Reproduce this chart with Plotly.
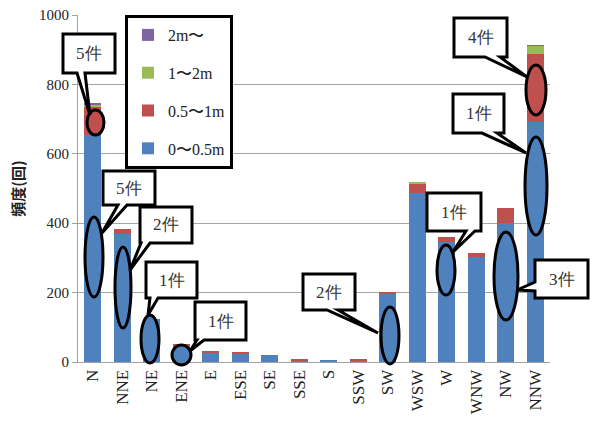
import plotly.graph_objects as go

# ---- data ----
directions = ["N", "NNE", "NE", "ENE", "E", "ESE", "SE", "SSE", "S", "SSW",
              "SW", "WSW", "W", "WNW", "NW", "NNW"]
h_0_05 = [655, 369, 124, 47, 26, 24, 21, 4, 5, 4, 196, 488, 347, 303, 401, 692]
h_05_1 = [80, 14, 0, 3, 3, 2, 0, 2, 0, 2, 4, 27, 12, 12, 44, 197]
h_1_2 = [8, 0, 0, 0, 0, 0, 0, 0, 0, 0, 0, 2, 0, 0, 0, 22]
h_2up = [1, 0, 0, 0, 0, 0, 0, 0, 0, 0, 0, 0, 0, 0, 0, 1]
series_names = ["0〜0.5m", "0.5〜1m", "1〜2m", "2m〜"]
series_colors = ["#4F81BD", "#C0504D", "#9BBB59", "#8064A2"]
y_ticks = [0, 200, 400, 600, 800, 1000]
y_title = "頻度(回)"

W, H = 595, 426
ML, MR, MT, MB = 78, 45, 15, 64
PW, PH = W - ML - MR, H - MT - MB

SERIF = "Liberation Serif, Times New Roman, serif"

fig = go.Figure()
series = [h_0_05, h_05_1, h_1_2, h_2up]
for i, (name, vals, col) in enumerate(zip(series_names, series, series_colors)):
    fig.add_trace(go.Bar(x=directions, y=vals, name=name, marker_color=col,
                         marker_line_width=0, legendgroup=name,
                         legendrank=1000 - i))


def px2p(x, y):
    return (x - ML) / PW, (MT + PH - y) / PH


def path_from(points):
    pts = [px2p(x, y) for x, y in points]
    return "M " + " L ".join(f"{a:.4f},{b:.4f}" for a, b in pts) + " Z"


shapes = []
annotations = []

# callouts: (text, box(x0,y0,x1,y1), edge, base(a,b), tip(x,y))
callouts = [
    ("5件", (63, 34, 115, 73), "bottom", (77, 85), (90, 115)),
    ("5件", (103, 171, 155, 205), "bottom", (118, 127), (102, 233)),
    ("2件", (140, 207, 192, 243), "bottom", (141, 150), (130, 270)),
    ("1件", (146, 262, 197, 298), "bottom", (150, 158), (148, 315)),
    ("1件", (195, 302, 246, 340), "bottom", (197, 204), (190, 351)),
    ("2件", (303, 274, 355, 310), "bottom", (327, 338), (378, 333)),
    ("1件", (427, 193, 481, 231), "bottom", (466, 475), (453, 252)),
    ("3件", (535, 260, 588, 298), "left", (282, 291), (517, 290)),
    ("1件", (453, 94, 504, 133), "bottom", (482, 497), (526, 153)),
    ("4件", (454, 18, 507, 57), "bottom", (485, 500), (527, 77)),
]
ellipses = [
    ((87, 110, 104, 135), "#C0504D"),
    ((85, 217, 103, 297), "#4F81BD"),
    ((115, 247, 131, 328), "#4F81BD"),
    ((141, 315, 159, 363), "#4F81BD"),
    ((172, 345, 191, 365), "#4F81BD"),
    ((381, 307, 399, 364), "#4F81BD"),
    ((437, 245, 455, 295), "#4F81BD"),
    ((494, 232, 518, 320), "#4F81BD"),
    ((525, 137, 547, 235), "#4F81BD"),
    ((526, 65, 546, 115), "#C0504D"),
]

for (x0, y0, x1, y1), col in ellipses:
    a0, b0 = px2p(x0, y1)
    a1, b1 = px2p(x1, y0)
    shapes.append(dict(type="circle", xref="paper", yref="paper", x0=a0, x1=a1,
                       y0=b0, y1=b1, fillcolor=col, line=dict(color="black", width=3),
                       layer="above"))

for text, (x0, y0, x1, y1), edge, (a, b), (tx, ty) in callouts:
    if edge == "bottom":
        pts = [(x0, y0), (x1, y0), (x1, y1), (b, y1), (tx, ty), (a, y1), (x0, y1)]
    else:  # left
        pts = [(x0, y0), (x1, y0), (x1, y1), (x0, y1), (x0, b), (tx, ty), (x0, a)]
    shapes.append(dict(type="path", xref="paper", yref="paper", path=path_from(pts),
                       fillcolor="white", line=dict(color="black", width=3),
                       layer="above"))
    cx, cy = px2p((x0 + x1) / 2, (y0 + y1) / 2)
    annotations.append(dict(x=cx, y=cy, xref="paper", yref="paper", text=text,
                            showarrow=False, xanchor="center", yanchor="middle",
                            font=dict(family=SERIF, size=17, color="#333333")))

fig.update_layout(
    width=W, height=H,
    margin=dict(l=ML, r=MR, t=MT, b=MB, autoexpand=False),
    paper_bgcolor="white", plot_bgcolor="white",
    barmode="stack", bargap=0.42,
    showlegend=True,
    legend=dict(x=(125 - ML) / PW, y=1.0, xanchor="left", yanchor="top",
                traceorder="grouped", tracegroupgap=14,
                bordercolor="black", borderwidth=3, bgcolor="white",
                font=dict(family=SERIF, size=16, color="#222222")),
    xaxis=dict(type="category", tickangle=-90, showgrid=False,
               showline=True, linecolor="#A0A0A0", linewidth=1,
               ticks="", tickfont=dict(family=SERIF, size=17, color="#222222")),
    yaxis=dict(range=[0, 1000], tickvals=y_ticks, showgrid=True, gridcolor="#A6A6A6",
               gridwidth=1, showline=True, linecolor="#A0A0A0", linewidth=1,
               ticks="outside", ticklen=5, tickcolor="#A0A0A0", zeroline=False,
               tickfont=dict(family=SERIF, size=15, color="#222222"),
               title=dict(text=y_title, standoff=10,
                          font=dict(family="Noto Sans CJK JP", size=15, color="#222222",
                                    weight="bold"))),
    shapes=shapes, annotations=annotations,
)

fig.write_html("out.html")
